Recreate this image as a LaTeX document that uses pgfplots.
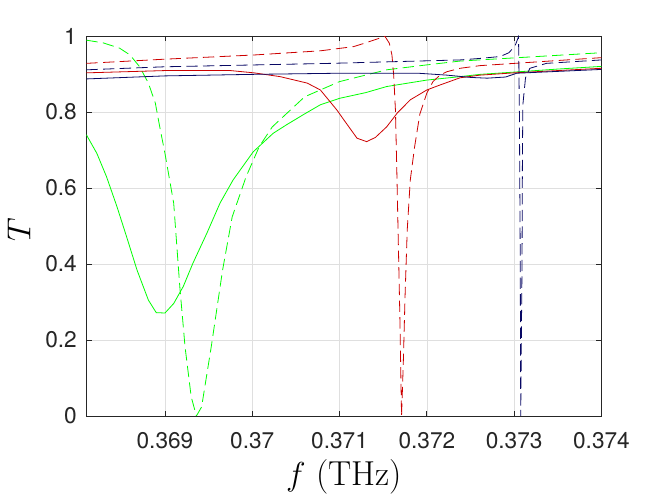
\documentclass[border=0pt]{standalone}
\usepackage{fontspec}
\usepackage{pgfplots}
\pgfplotsset{compat=1.18}
\newfontfamily\helv{TeX Gyre Heros}
\definecolor{mgreen}{RGB}{0,255,0}
\definecolor{mred}{RGB}{204,0,0}
\definecolor{mnavy}{RGB}{8,8,100}
\definecolor{axc}{RGB}{38,38,38}
\definecolor{gridc}{RGB}{223,223,223}
\begin{document}
\begin{tikzpicture}
\path[use as bounding box] (-64.8pt,-61.5pt) rectangle (433.2pt,312pt);
\begin{axis}[
  at={(0,0)}, anchor=south west,
  scale only axis, width=386.3pt, height=285pt,
  xmin=0.3681, xmax=0.374, ymin=0, ymax=1,
  xtick={0.369,0.370,0.371,0.372,0.373,0.374},
  xticklabels={0.369,0.37,0.371,0.372,0.373,0.374},
  ytick={0,0.2,0.4,0.6,0.8,1},
  yticklabels={0,0.2,0.4,0.6,0.8,1},
  scaled x ticks=false,
  tick align=inside, major tick length=4pt,
  grid=major, major grid style={gridc, line width=0.5pt},
  axis line style={axc, line width=0.6pt},
  tick style={axc, line width=0.6pt},
  ticklabel style={font=\helv\fontsize{17}{20}\selectfont, text=axc},
  xticklabel style={anchor=center, yshift=-18.75pt},
  yticklabel style={anchor=east, inner sep=0pt, xshift=-7pt},
  xlabel={$f$ (THz)},
  ylabel={$T$},
  xlabel style={font=\fontsize{26}{30}\selectfont, at={(axis description cs:0.5,0)}, anchor=center, yshift=-46pt},
  ylabel style={font=\fontsize{25}{30}\selectfont, at={(axis description cs:-0.1307,0.4895)}, anchor=center},
  no marks,
  every axis plot/.append style={line width=0.6pt},
]
% green solid
\addplot[color=mgreen] coordinates {
(0.36810,0.740) (0.36822,0.691) (0.36833,0.630) (0.36845,0.551) (0.36856,0.472)
(0.36868,0.384) (0.36881,0.305) (0.36890,0.272) (0.36900,0.271) (0.36910,0.296)
(0.36921,0.341) (0.36932,0.402) (0.36948,0.481) (0.36963,0.560) (0.36978,0.621)
(0.37001,0.695) (0.37024,0.744) (0.37039,0.766) (0.37060,0.795) (0.37078,0.819)
(0.37100,0.836) (0.37130,0.851) (0.37154,0.867) (0.37200,0.884) (0.37238,0.893)
(0.37261,0.899) (0.37300,0.905) (0.37350,0.913) (0.37400,0.920)
};
% green dashed
\addplot[color=mgreen, dash pattern=on 8.5pt off 4pt] coordinates {
(0.36810,0.989) (0.36829,0.982) (0.36848,0.968) (0.36860,0.950) (0.36871,0.919)
(0.36881,0.876) (0.36889,0.823) (0.36894,0.761) (0.36900,0.691) (0.36910,0.560)
(0.36917,0.340) (0.36923,0.182) (0.36930,0.051) (0.36936,0.000) (0.36942,0.024)
(0.36953,0.182) (0.36966,0.384) (0.36977,0.524) (0.36993,0.630) (0.37008,0.709)
(0.37023,0.761) (0.37060,0.840) (0.37078,0.858) (0.37100,0.880) (0.37154,0.911)
(0.37200,0.924) (0.37238,0.934) (0.37290,0.941) (0.37400,0.956)
};
% red solid
\addplot[color=mred] coordinates {
(0.36810,0.903) (0.36900,0.909) (0.36975,0.909) (0.37002,0.903) (0.37032,0.893)
(0.37063,0.876) (0.37078,0.858) (0.37097,0.805) (0.37105,0.779) (0.37120,0.731)
(0.37131,0.722) (0.37141,0.733) (0.37154,0.761) (0.37166,0.797) (0.37181,0.832)
(0.37200,0.858) (0.37215,0.871) (0.37238,0.890) (0.37261,0.897) (0.37300,0.903)
(0.37400,0.915)
};
% red dashed
\addplot[color=mred, dash pattern=on 8.5pt off 4pt] coordinates {
(0.36810,0.928) (0.36900,0.939) (0.37002,0.950) (0.37078,0.961) (0.37116,0.972)
(0.37130,0.982) (0.37148,0.996) (0.37152,0.999) (0.37157,0.981) (0.37160,0.950)
(0.37162,0.897) (0.37164,0.805) (0.371654,0.665) (0.37167,0.489) (0.37169,0.270)
(0.37171,0.000) (0.37173,0.139) (0.37175,0.314) (0.371775,0.489) (0.37181,0.621)
(0.37186,0.709) (0.37192,0.795) (0.37200,0.850) (0.37207,0.880) (0.37215,0.897)
(0.37223,0.906) (0.37238,0.915) (0.37261,0.922) (0.37400,0.943)
};
% navy solid
\addplot[color=mnavy] coordinates {
(0.36810,0.887) (0.36900,0.895) (0.37000,0.899) (0.37100,0.902) (0.37190,0.902)
(0.37223,0.897) (0.37250,0.891) (0.37269,0.889) (0.37290,0.892) (0.37303,0.902)
(0.37400,0.912)
};
% navy dashed
\addplot[color=mnavy, dash pattern=on 8.5pt off 4pt] coordinates {
(0.36810,0.911) (0.36900,0.919) (0.37090,0.928) (0.37238,0.937) (0.37261,0.941)
(0.37284,0.946) (0.37294,0.956) (0.37301,0.974) (0.37305,0.998) (0.37306,0.800)
(0.37307,0.400) (0.373075,0.000) (0.37309,0.400) (0.373095,0.700) (0.37310,0.820)
(0.37313,0.890) (0.37318,0.915) (0.37337,0.928) (0.37400,0.937)
};
\end{axis}
\end{tikzpicture}
\end{document}
